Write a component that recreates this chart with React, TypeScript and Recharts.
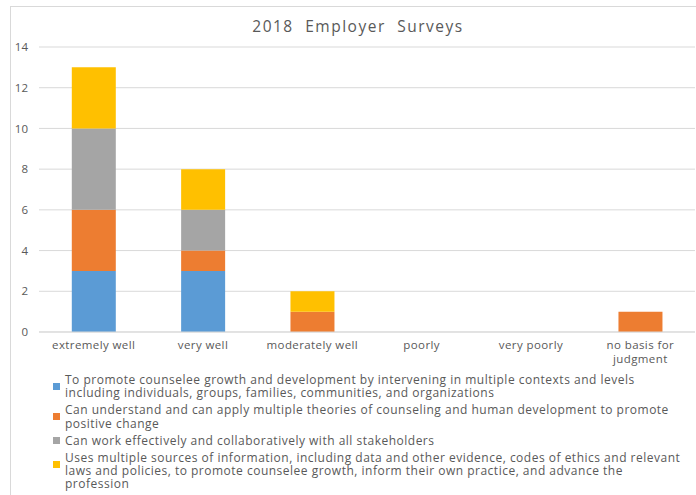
import { BarChart, Bar, XAxis, YAxis, CartesianGrid } from 'recharts';

const categories = ['extremely well', 'very well', 'moderately well', 'poorly', 'very poorly', 'no basis for judgment'];

const interveningValues = [3, 3, 0, 0, 0, 0];
const theoriesValues = [3, 1, 1, 0, 0, 1];
const stakeholdersValues = [4, 2, 0, 0, 0, 0];
const sourcesValues = [3, 2, 1, 0, 0, 0];

const yTicks = [0, 2, 4, 6, 8, 10, 12, 14];

const seriesNames = [
  'To promote counselee growth and development by intervening in multiple contexts and levels\nincluding individuals, groups, families, communities, and organizations',
  'Can understand and can apply multiple theories of counseling and human development to promote\npositive change',
  'Can work effectively and collaboratively with all stakeholders',
  'Uses multiple sources of information, including data and other evidence, codes of ethics and relevant\nlaws and policies, to promote counselee growth, inform their own practice, and advance the\nprofession',
];

const seriesColors = ['#5B9BD5', '#ED7D31', '#A5A5A5', '#FFC000'];
const seriesKeys = ['intervening', 'theories', 'stakeholders', 'sources'];

const data = categories.map((name, i) => ({
  name,
  intervening: interveningValues[i],
  theories: theoriesValues[i],
  stakeholders: stakeholdersValues[i],
  sources: sourcesValues[i],
}));

const FONT = '"Open Sans", sans-serif';
const TEXT_GREY = '#595959';

// greedy word wrap, about 15 characters per line
function wrapLabel(s: string, max = 15) {
  const lines: string[] = [];
  let cur = '';
  s.split(' ').forEach((w) => {
    if (cur && (cur + ' ' + w).length > max) {
      lines.push(cur);
      cur = w;
    } else {
      cur = cur ? cur + ' ' + w : w;
    }
  });
  if (cur) lines.push(cur);
  return lines;
}

function CategoryTick(props: any) {
  const { x, y, payload } = props;
  const lines = wrapLabel(String(payload.value));
  return (
    <text
      x={x}
      y={y}
      textAnchor="middle"
      fill={TEXT_GREY}
      fontSize={11.5}
      fontFamily={FONT}
      letterSpacing={0.4}
    >
      {lines.map((l, i) => (
        <tspan key={i} x={x} dy={i === 0 ? 10 : 13.5}>
          {l}
        </tspan>
      ))}
    </text>
  );
}

export default function App() {
  return (
    <div style={{ position: 'absolute', left: 0, top: 0, width: 696, height: 495, background: '#fff', overflow: 'hidden' }}>
      {/* chart frame */}
      <div
        style={{
          position: 'absolute',
          left: 10,
          top: 6,
          right: 0,
          bottom: 0,
          borderLeft: '1px solid #d9d9d9',
          borderTop: '1px solid #d9d9d9',
        }}
      />
      <div
        style={{
          position: 'absolute',
          left: 0,
          width: 716,
          top: 15,
          textAlign: 'center',
          fontFamily: FONT,
          fontSize: 15.5,
          letterSpacing: 1.5,
          wordSpacing: 6,
          color: TEXT_GREY,
        }}
      >
        2018 Employer Surveys
      </div>
      <div style={{ position: 'absolute', left: 0, top: 0 }}>
        <BarChart
          width={696}
          height={495}
          data={data}
          margin={{ top: 47, right: 1, left: 0, bottom: 133 }}
          barCategoryGap="30%"
        >
          <CartesianGrid vertical={false} stroke="#d9d9d9" />
          <XAxis
            dataKey="name"
            height={30}
            tickLine={false}
            axisLine={{ stroke: '#d9d9d9' }}
            tickMargin={1}
            interval={0}
            tick={<CategoryTick />}
          />
          <YAxis
            width={39}
            domain={[0, 14]}
            ticks={yTicks}
            tickLine={false}
            axisLine={false}
            tickMargin={5}
            tick={{ fill: TEXT_GREY, fontSize: 11.5, fontFamily: FONT }}
          />
          {seriesKeys.map((k, i) => (
            <Bar key={k} dataKey={k} stackId="a" fill={seriesColors[i]} isAnimationActive={false} />
          ))}
        </BarChart>
      </div>
      {/* legend */}
      <div
        style={{
          position: 'absolute',
          left: 53,
          top: 373,
          fontFamily: FONT,
          fontSize: 12,
          letterSpacing: 0.5,
          color: TEXT_GREY,
        }}
      >
        {seriesNames.map((name, i) => {
          const multi = name.includes('\n');
          return (
            <div key={i} style={{ display: 'flex', alignItems: 'flex-start', marginBottom: 4 }}>
              <div
                style={{
                  width: 7,
                  height: 7,
                  background: seriesColors[i],
                  marginTop: multi ? 10 : 3,
                  marginRight: 5,
                  flex: 'none',
                }}
              />
              <div style={{ whiteSpace: 'pre', lineHeight: '13.2px' }}>{name}</div>
            </div>
          );
        })}
      </div>
    </div>
  );
}
